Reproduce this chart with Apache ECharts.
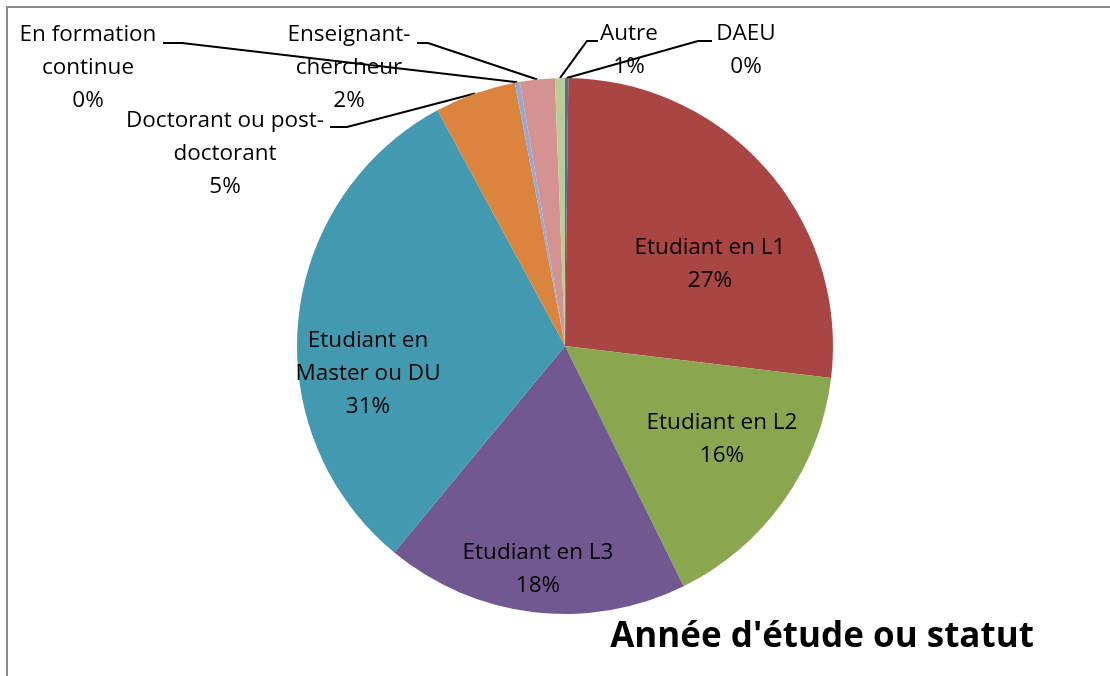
<!DOCTYPE html>
<html>
<head>
<meta charset="utf-8">
<script src="https://cdn.jsdelivr.net/npm/echarts@6/dist/echarts.min.js"></script>
<style>
  html, body { margin: 0; padding: 0; background: #fff; }
  #chart-container { width: 1110px; height: 676px; }
</style>
</head>
<body>
<div id="chart-container"></div>
<script>
// Data (share of respondents, %), clockwise from 12 o'clock
var categories = [
	'DAEU',
	'Etudiant en L1',
	'Etudiant en L2',
	'Etudiant en L3',
	'Etudiant en\nMaster ou DU',
	'Doctorant ou post-\ndoctorant',
	'En formation\ncontinue',
	'Enseignant-\nchercheur',
	'Autre'
];
var shares = [0.2, 26.7, 15.8, 18.3, 31.1, 4.9, 0.3, 2.1, 0.6];
var sliceColors = ['#4a72a8', '#a94543', '#8aa64e', '#715890', '#4299b0', '#db843d', '#95a9d6', '#d49391', '#b9ce97'];
var chartTitle = "Année d'étude ou statut";

// Where each label sits (text centre) and how its leader line bends
var labelSpots = [
	{ x: 746, y: 50, line: [[698, 41], [712, 41]] },
	{ x: 710, y: 264 },
	{ x: 722, y: 439 },
	{ x: 538, y: 569 },
	{ x: 368, y: 374 },
	{ x: 225, y: 154, line: [[347, 127], [330, 127]] },
	{ x: 88, y: 68, line: [[182, 43], [163, 43]] },
	{ x: 349, y: 68, line: [[428, 43], [417, 43]] },
	{ x: 629, y: 50, line: [[587, 41], [598, 41]] }
];

var dom = document.getElementById('chart-container');
var myChart = echarts.init(dom, null, { renderer: 'canvas' });

var pieData = categories.map(function (name, i) {
	return {
		name: name,
		value: shares[i],
		itemStyle: { color: sliceColors[i] },
		labelLine: { show: !!labelSpots[i].line }
	};
});

var option = {
	animation: false,
	textStyle: {
		fontFamily: 'Open Sans'
	},
	graphic: [
		{
			type: 'rect',
			shape: { x: 7, y: 7, width: 1300, height: 900 },
			style: { fill: 'none', stroke: '#8c8c8c', lineWidth: 2 },
			silent: true
		},
		{
			type: 'text',
			style: {
				text: chartTitle,
				x: 822,
				y: 637,
				textAlign: 'center',
				textVerticalAlign: 'middle',
				font: 'bold 35px "Open Sans"',
				fill: '#000'
			},
			silent: true
		}
	],
	series: [
		{
			type: 'pie',
			center: [565, 346],
			radius: 268,
			startAngle: 90,
			clockwise: true,
			avoidLabelOverlap: false,
			silent: true,
			itemStyle: { borderWidth: 0 },
			label: {
				show: true,
				position: 'outside',
				color: '#000',
				fontFamily: 'Open Sans',
				fontSize: 22.5,
				lineHeight: 33,
				align: 'center',
				formatter: function (p) {
					return p.name + '\n' + Math.round(p.percent) + '%';
				}
			},
			labelLine: {
				length: 10,
				length2: 10,
				lineStyle: { color: '#000', width: 2 }
			},
			labelLayout: function (params) {
				var spot = labelSpots[params.dataIndex];
				var out = {
					x: spot.x,
					y: spot.y,
					align: 'center',
					verticalAlign: 'middle'
				};
				if (spot.line && params.labelLinePoints) {
					out.labelLinePoints = [params.labelLinePoints[0]].concat(spot.line);
				}
				return out;
			},
			data: pieData
		}
	]
};

myChart.setOption(option);
window.addEventListener('resize', myChart.resize);
</script>
</body>
</html>
